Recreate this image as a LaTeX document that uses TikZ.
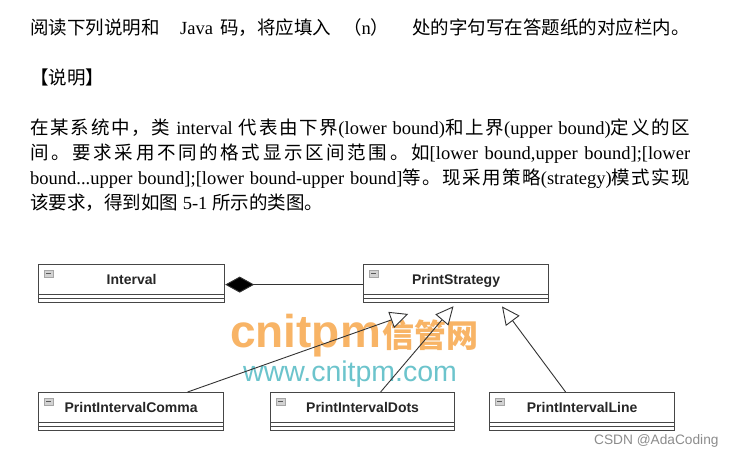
\documentclass[tikz,border=0pt]{standalone}
\usepackage{fontspec}
\setmainfont{Liberation Serif}
\newfontfamily\cjk{Noto Sans CJK SC}
\newfontfamily\arialf{Liberation Sans}
\usetikzlibrary{arrows.meta}
\newcount\cjkcc
\cjkcc="4E00 \loop\ifnum\cjkcc<"A000 \XeTeXcharclass\cjkcc=1 \advance\cjkcc by 1 \repeat
\cjkcc="3000 \loop\ifnum\cjkcc<"3040 \XeTeXcharclass\cjkcc=1 \advance\cjkcc by 1 \repeat
\cjkcc="FF00 \loop\ifnum\cjkcc<"FF60 \XeTeXcharclass\cjkcc=1 \advance\cjkcc by 1 \repeat
\XeTeXinterchartokenstate=1
\XeTeXinterchartoks 1 1 = {\hskip 0pt plus 3pt\relax}
\newcommand\zh[1]{{\cjk #1}}
\definecolor{wmorange}{RGB}{248,180,102}
\definecolor{wmteal}{RGB}{108,196,204}
\definecolor{boxline}{RGB}{70,70,70}
\tikzset{
  txt/.style={anchor=base west, inner sep=0pt, font=\fontsize{18.5}{25}\selectfont},
  umlbox/.style={draw=boxline, line width=1.2pt, minimum height=38pt, inner sep=0pt},
  cmpline/.style={draw=boxline, line width=0.9pt},
  umlicon/.style={draw=gray!70, fill=gray!35, minimum width=8.5pt, minimum height=7pt, inner sep=0pt, line width=0.5pt,
    path picture={\draw[black!65,line width=1pt] ([xshift=2pt]path picture bounding box.west) -- ([xshift=-2pt]path picture bounding box.east);}},
  umltitle/.style={anchor=base, inner sep=0pt, text=black!85, font=\arialf\bfseries\fontsize{14}{14}\selectfont},
  comp/.style={draw=black!80, line width=0.9pt, {Diamond[length=29pt,width=16pt,fill=black]}-},
  gen/.style={draw=black!80, line width=0.9pt, -{Triangle[open,length=18pt,width=17pt,fill=white]}}
}
\newcommand\umlcls[5]{%
  \node[umlbox, minimum width=#4pt, anchor=north west] (#1) at (#2,#3) {};
  \draw[cmpline] ([yshift=-30pt]#1.north west) -- ([yshift=-30pt]#1.north east);
  \draw[cmpline] ([yshift=-34pt]#1.north west) -- ([yshift=-34pt]#1.north east);
  \node[umlicon, anchor=north west] (#1-i) at ([xshift=6pt,yshift=-6pt]#1.north west) {};
  \node[umltitle] (#1-t) at ([yshift=-20.5pt]#1.north) {#5};
}
\begin{document}
\begin{tikzpicture}[x=1pt,y=-1pt]
\fill[white] (0,0) rectangle (733,456);
\useasboundingbox (0,0) rectangle (733,456);
% header text
\node[txt] (h1a) at (30,34) {\zh{阅读下列说明和}};
\node[txt] (h1b) at (180,34) {Java};
\node[txt] (h1c) at (220,34) {\zh{码，将应填入}};
\node[txt] (h1d) at (343,34) {\zh{（}n\zh{）}};
\node[txt] (h1e) at (412,34) {\zh{处的字句写在答题纸的对应栏内。}};
\node[txt] (h2) at (30,84) {\zh{【说明】}};
% paragraph
\node[txt] (p1) at (30,134) {\makebox[660pt][s]{\zh{在某系统中，类} interval \zh{代表由下界}(lower bound)\zh{和上界}(upper bound)\zh{定义的区}}};
\node[txt] (p2) at (30,159) {\makebox[660pt][s]{\zh{间。要求采用不同的格式显示区间范围。如}[lower bound,upper bound];[lower}};
\node[txt] (p3) at (30,184) {\makebox[660pt][s]{bound...upper bound];[lower bound-upper bound]\zh{等。现采用策略}(strategy)\zh{模式实现}}};
\node[txt] (p4) at (30,209) {\zh{该要求，得到如图} 5-1 \zh{所示的类图。}};
% watermarks
\node[anchor=base west, inner sep=0pt, text=wmorange, font=\arialf\bfseries\fontsize{46}{46}\selectfont] (wm1) at (230,347) {cnitpm};
\node[anchor=base west, inner sep=0pt, text=wmorange, font=\cjk\bfseries\fontsize{32}{32}\selectfont] (wm2) at ([xshift=1pt]wm1.base east) {信管网};
\node[anchor=base west, inner sep=0pt, text=wmteal, font=\arialf\fontsize{28.5}{28.5}\selectfont] (wm3) at (243,381) {www.cnitpm.com};
% classes
\umlcls{interval}{38}{264}{186}{Interval}
\umlcls{ps}{363}{264}{185}{PrintStrategy}
\umlcls{comma}{38}{392}{185}{PrintIntervalComma}
\umlcls{dots}{270}{392}{184}{PrintIntervalDots}
\umlcls{pline}{489}{392}{185}{PrintIntervalLine}
% connectors
\draw[comp] ([yshift=-1pt]interval.east) -- ([yshift=-1pt]ps.west);
\draw[gen, shorten >=32.3pt] ([xshift=56.5pt]comma.north) -- ([xshift=-17.5pt]ps.south);
\draw[gen, shorten >=4pt] ([xshift=18pt]dots.north) -- (ps.south);
\draw[gen, shorten >=4pt] ([xshift=-16.5pt]pline.north) -- ([xshift=43.5pt]ps.south);
% credit
\node[anchor=base west, inner sep=0pt, text=black!45, font=\arialf\fontsize{13.7}{14}\selectfont] (csdn) at (594,444) {CSDN @AdaCoding};
\end{tikzpicture}
\end{document}
